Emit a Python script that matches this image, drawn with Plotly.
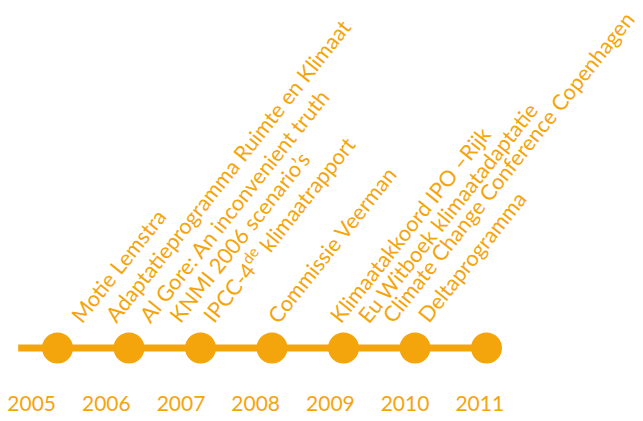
import plotly.graph_objects as go

ORANGE = "#F5A50C"
FONT = "Lato"

years = [2005, 2006, 2007, 2008, 2009, 2010, 2011]
year_labels = ["2005", "2006", "2007", "2008", "2009", "2010", "2011"]
line_start = 2004.45

events = [
    "Motie Lemstra",
    "Adaptatieprogramma Ruimte en Klimaat",
    "Al Gore: An inconvenient truth",
    "KNMI 2006 scenario’s",
    "IPCC-4<sup>de</sup> klimaatrapport",
    "Commissie Veerman",
    "Klimaatakkoord IPO –Rijk",
    "Eu Witboek klimaatadaptatie",
    "Climate Change Conference Copenhagen",
    "Deltaprogramma",
]
event_dates = [2005.22, 2005.70, 2006.18, 2006.60, 2007.04,
               2007.97, 2008.84, 2009.23, 2009.58, 2010.07]

fig = go.Figure()

# timeline line
fig.add_trace(go.Scatter(
    x=[line_start, years[-1]], y=[0, 0], mode="lines",
    line=dict(color=ORANGE, width=7), hoverinfo="skip", showlegend=False))

# year circles
fig.add_trace(go.Scatter(
    x=years, y=[0] * len(years), mode="markers",
    marker=dict(color=ORANGE, size=31, line=dict(width=0)),
    hoverinfo="skip", showlegend=False))

# year labels (own scale)
fig.add_trace(go.Scatter(
    x=years, y=[-58] * len(years), mode="text", text=year_labels,
    textfont=dict(color=ORANGE, size=21, family=FONT),
    xaxis="x2", hoverinfo="skip", showlegend=False))

for d, t in zip(event_dates, events):
    fig.add_annotation(
        x=d, y=19, xref="x", yref="y", text=t, showarrow=False,
        textangle=-51.5, xanchor="left", yanchor="bottom", xshift=-9,
        font=dict(color=ORANGE, size=21.6, family=FONT), borderpad=0)

fig.update_layout(
    width=643, height=421,
    margin=dict(l=0, r=0, t=0, b=0),
    paper_bgcolor="white", plot_bgcolor="white",
    xaxis=dict(range=[2004.196, 2013.189], visible=False, fixedrange=True),
    xaxis2=dict(range=[2004.576, 2013.186], visible=False, overlaying="x",
                fixedrange=True),
    yaxis=dict(range=[-73, 348], visible=False, fixedrange=True),
)

fig.write_html("out.html", config={"displayModeBar": False},
               post_script="document.body.style.margin='0';")
